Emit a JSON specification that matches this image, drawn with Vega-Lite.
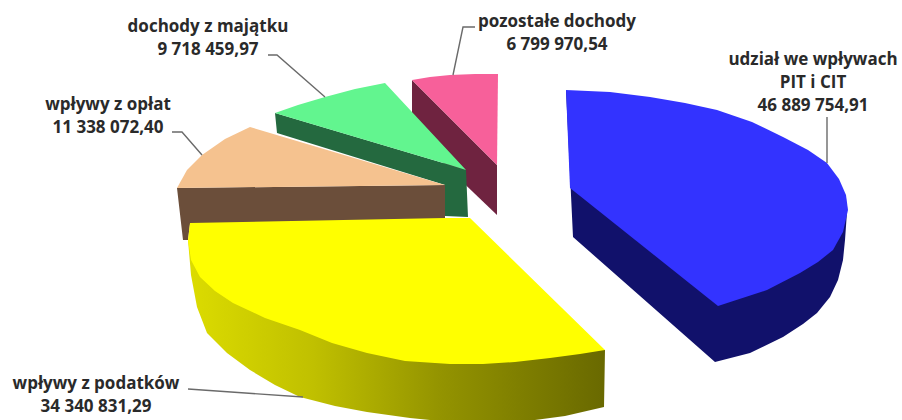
{"$schema":"https://vega.github.io/schema/vega-lite/v6.json","width":902,"height":420,"padding":0,"autosize":{"type":"none"},"background":"white","config":{"view":{"stroke":null}},
"datasets":{
"shapes":[
{"p":"pink side","i":1,"x":412,"y":80},{"p":"pink side","i":2,"x":497,"y":165},{"p":"pink side","i":3,"x":497,"y":215},{"p":"pink side","i":4,"x":450,"y":170},{"p":"pink side","i":5,"x":412,"y":130},
{"p":"pink top","i":1,"x":412,"y":80},{"p":"pink top","i":2,"x":430,"y":77},{"p":"pink top","i":3,"x":450,"y":75},{"p":"pink top","i":4,"x":475,"y":74},{"p":"pink top","i":5,"x":498,"y":74},{"p":"pink top","i":6,"x":497,"y":165},
{"p":"green side","i":1,"x":275,"y":113},{"p":"green side","i":2,"x":277,"y":133},{"p":"green side","i":3,"x":445,"y":185},{"p":"green side","i":4,"x":445,"y":216},{"p":"green side","i":5,"x":468,"y":217},{"p":"green side","i":6,"x":466,"y":170},{"p":"green side","i":7,"x":450,"y":165},
{"p":"green top","i":1,"x":275,"y":113},{"p":"green top","i":2,"x":298,"y":105},{"p":"green top","i":3,"x":325,"y":97},{"p":"green top","i":4,"x":355,"y":89},{"p":"green top","i":5,"x":385,"y":83},{"p":"green top","i":6,"x":466,"y":170},{"p":"green top","i":7,"x":450,"y":165},
{"p":"peach side","i":1,"x":177,"y":188},{"p":"peach side","i":2,"x":445,"y":185},{"p":"peach side","i":3,"x":445,"y":220},{"p":"peach side","i":4,"x":190,"y":224},{"p":"peach side","i":5,"x":188,"y":240},{"p":"peach side","i":6,"x":183,"y":240},
{"p":"peach top","i":1,"x":250,"y":127},{"p":"peach top","i":2,"x":225,"y":139},{"p":"peach top","i":3,"x":202,"y":155},{"p":"peach top","i":4,"x":187,"y":170},{"p":"peach top","i":5,"x":177,"y":188},{"p":"peach top","i":6,"x":445,"y":185},
{"p":"yellow side","i":1,"x":188,"y":240},{"p":"yellow side","i":2,"x":191,"y":275},{"p":"yellow side","i":3,"x":197,"y":307},{"p":"yellow side","i":4,"x":207,"y":333},{"p":"yellow side","i":5,"x":227,"y":353},{"p":"yellow side","i":6,"x":250,"y":370},{"p":"yellow side","i":7,"x":275,"y":385},{"p":"yellow side","i":8,"x":300,"y":397},{"p":"yellow side","i":9,"x":335,"y":406},{"p":"yellow side","i":10,"x":367,"y":412},{"p":"yellow side","i":11,"x":410,"y":418},{"p":"yellow side","i":12,"x":450,"y":422},{"p":"yellow side","i":13,"x":520,"y":422},{"p":"yellow side","i":14,"x":565,"y":416},{"p":"yellow side","i":15,"x":604,"y":407},{"p":"yellow side","i":16,"x":605,"y":350},{"p":"yellow side","i":17,"x":450,"y":340},
{"p":"yellow top","i":1,"x":190,"y":223},{"p":"yellow top","i":2,"x":445,"y":218},{"p":"yellow top","i":3,"x":470,"y":218},{"p":"yellow top","i":4,"x":605,"y":350},{"p":"yellow top","i":5,"x":580,"y":354},{"p":"yellow top","i":6,"x":550,"y":358},{"p":"yellow top","i":7,"x":515,"y":362},{"p":"yellow top","i":8,"x":483,"y":364},{"p":"yellow top","i":9,"x":450,"y":364},{"p":"yellow top","i":10,"x":405,"y":361},{"p":"yellow top","i":11,"x":367,"y":353},{"p":"yellow top","i":12,"x":332,"y":343},{"p":"yellow top","i":13,"x":300,"y":330},{"p":"yellow top","i":14,"x":265,"y":318},{"p":"yellow top","i":15,"x":233,"y":303},{"p":"yellow top","i":16,"x":215,"y":291},{"p":"yellow top","i":17,"x":200,"y":277},{"p":"yellow top","i":18,"x":191,"y":260},{"p":"yellow top","i":19,"x":188,"y":240},
{"p":"blue side","i":1,"x":566,"y":90},{"p":"blue side","i":2,"x":573,"y":237},{"p":"blue side","i":3,"x":715,"y":362},{"p":"blue side","i":4,"x":750,"y":353},{"p":"blue side","i":5,"x":783,"y":337},{"p":"blue side","i":6,"x":803,"y":324},{"p":"blue side","i":7,"x":817,"y":313},{"p":"blue side","i":8,"x":830,"y":297},{"p":"blue side","i":9,"x":838,"y":280},{"p":"blue side","i":10,"x":843,"y":260},{"p":"blue side","i":11,"x":845,"y":240},{"p":"blue side","i":12,"x":847,"y":212},{"p":"blue side","i":13,"x":718,"y":250},
{"p":"blue top","i":1,"x":566,"y":90},{"p":"blue top","i":2,"x":610,"y":92},{"p":"blue top","i":3,"x":650,"y":97},{"p":"blue top","i":4,"x":685,"y":103},{"p":"blue top","i":5,"x":717,"y":110},{"p":"blue top","i":6,"x":752,"y":122},{"p":"blue top","i":7,"x":783,"y":137},{"p":"blue top","i":8,"x":808,"y":150},{"p":"blue top","i":9,"x":827,"y":163},{"p":"blue top","i":10,"x":839,"y":179},{"p":"blue top","i":11,"x":846,"y":195},{"p":"blue top","i":12,"x":848,"y":210},{"p":"blue top","i":13,"x":843,"y":232},{"p":"blue top","i":14,"x":833,"y":250},{"p":"blue top","i":15,"x":818,"y":262},{"p":"blue top","i":16,"x":800,"y":273},{"p":"blue top","i":17,"x":767,"y":290},{"p":"blue top","i":18,"x":718,"y":306},{"p":"blue top","i":19,"x":570,"y":188}
],
"leaders":[
{"s":"udział","i":1,"x":827,"y":117},{"s":"udział","i":2,"x":827,"y":163},
{"s":"pozostałe","i":1,"x":475,"y":27},{"s":"pozostałe","i":2,"x":463,"y":27},{"s":"pozostałe","i":3,"x":453,"y":75},
{"s":"majątek","i":1,"x":268,"y":55},{"s":"majątek","i":2,"x":277,"y":55},{"s":"majątek","i":3,"x":325,"y":97},
{"s":"opłaty","i":1,"x":172,"y":132},{"s":"opłaty","i":2,"x":182,"y":132},{"s":"opłaty","i":3,"x":202,"y":155},
{"s":"podatki","i":1,"x":188,"y":389},{"s":"podatki","i":2,"x":303,"y":397}
],
"labels":[
{"text":"dochody z majątku\n9 718 459,97","value":9718459.97,"x":208,"y":27},
{"text":"wpływy z opłat\n11 338 072,40","value":11338072.40,"x":108,"y":105},
{"text":"pozostałe dochody\n6 799 970,54","value":6799970.54,"x":557,"y":22},
{"text":"udział we wpływach\nPIT i CIT\n46 889 754,91","value":46889754.91,"x":813,"y":60},
{"text":"wpływy z podatków\n34 340 831,29","value":34340831.29,"x":96,"y":384}
]},
"encoding":{
"x":{"field":"x","type":"quantitative","axis":null,"scale":{"domain":[0,902],"nice":false,"zero":false}},
"y":{"field":"y","type":"quantitative","axis":null,"scale":{"domain":[420,0],"nice":false,"zero":false}}
},
"layer":[
{"data":{"name":"shapes"},"transform":[{"filter":"indexof(['pink side','pink top','green side','green top','peach side','peach top'],datum.p)>=0"}],
"mark":{"type":"line","filled":true,"clip":true,"strokeWidth":0},
"encoding":{"order":{"field":"i","type":"quantitative"},"color":{"field":"p","type":"nominal","legend":null,"scale":{"domain":["pink side","pink top","green side","green top","peach side","peach top","yellow top","blue side","blue top"],"range":["#6f2340","#f7609a","#24693f","#62f58f","#6b4e3a","#f5c28f","#ffff00","#11116b","#3333ff"]}}}},
{"data":{"name":"shapes"},"transform":[{"filter":"datum.p==='yellow side'"}],
"mark":{"type":"line","clip":true,"strokeWidth":0,"filled":true,"fill":{"gradient":"linear","x1":0,"y1":0,"x2":1,"y2":0,"stops":[{"offset":0,"color":"#dcdc00"},{"offset":0.3,"color":"#c0c000"},{"offset":0.6,"color":"#949400"},{"offset":1,"color":"#696900"}]}},
"encoding":{"order":{"field":"i","type":"quantitative"}}},
{"data":{"name":"shapes"},"transform":[{"filter":"indexof(['yellow top','blue side','blue top'],datum.p)>=0"}],
"mark":{"type":"line","filled":true,"clip":true,"strokeWidth":0},
"encoding":{"order":{"field":"i","type":"quantitative"},"color":{"field":"p","type":"nominal","legend":null}}},
{"data":{"name":"leaders"},"mark":{"type":"line","stroke":"#6a6a6a","strokeWidth":1.4},
"encoding":{"order":{"field":"i","type":"quantitative"},"detail":{"field":"s","type":"nominal"}}},
{"data":{"name":"labels"},"mark":{"type":"text","font":"Open Sans","fontWeight":"bold","fontSize":17,"lineBreak":"\n","lineHeight":23,"align":"center","baseline":"middle","fill":"#2a2a2a"},
"encoding":{"text":{"field":"text","type":"nominal"}}}
]}
